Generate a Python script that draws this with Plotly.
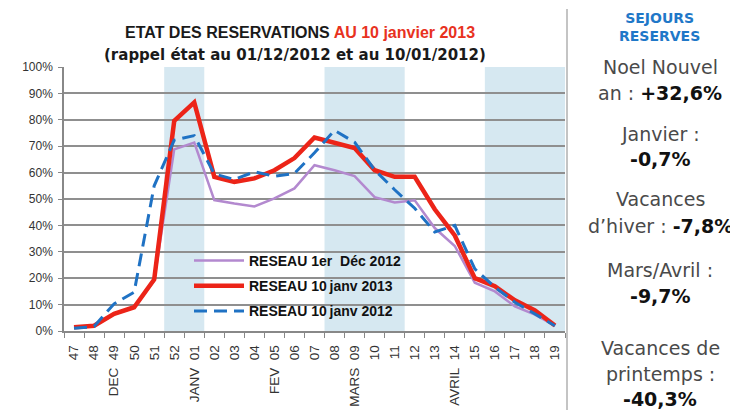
import plotly.graph_objects as go

# ---- data ----
weeks = ["47", "48", "49", "50", "51", "52", "01", "02", "03", "04", "05", "06", "07",
         "08", "09", "10", "11", "12", "13", "14", "15", "16", "17", "18", "19"]
month_of_week = {"49": "DEC", "01": "JANV", "05": "FEV", "09": "MARS", "14": "AVRIL"}

dec_2012 = [0.012, 0.018, 0.063, 0.088, 0.19, 0.688, 0.714, 0.496, 0.483, 0.472, 0.502, 0.54, 0.628,
            0.609, 0.587, 0.507, 0.487, 0.495, 0.39, 0.322, 0.183, 0.15, 0.093, 0.062, 0.02]
janv_2013 = [0.014, 0.02, 0.065, 0.09, 0.195, 0.796, 0.866, 0.584, 0.565, 0.578, 0.609, 0.655, 0.733,
             0.714, 0.693, 0.609, 0.584, 0.584, 0.461, 0.362, 0.2, 0.17, 0.116, 0.078, 0.021]
janv_2012 = [0.01, 0.017, 0.103, 0.147, 0.55, 0.723, 0.74, 0.595, 0.574, 0.603, 0.586, 0.597, 0.675,
             0.76, 0.715, 0.61, 0.535, 0.465, 0.375, 0.40, 0.235, 0.166, 0.109, 0.065, 0.02]

series_names = ["RESEAU 1er\u00a0\u00a0Déc 2012", "RESEAU 10\u2009janv 2013", "RESEAU 10\u2009janv 2012"]
holiday_bands = [("52", "01"), ("08", "11"), ("16", "19")]

# side panel: (plain text, bold value) per line
side_lines = [
    ("Noel Nouvel", ""), ("an : ", "+32,6%"),
    ("Janvier :", ""), ("", "-0,7%"),
    ("Vacances", ""), ("d\u2019hiver : ", "-7,8%"),
    ("Mars/Avril :", ""), ("", "-9,7%"),
    ("Vacances de", ""), ("printemps :", ""), ("", "-40,3%"),
]

# ---- figure ----
# page body has an 8px margin, so the figure starts at (8, 8) of the page
W, H = 730, 402
L, R, T, B = 56, 173, 59, 79
pw, ph = W - L - R, H - T - B
PL, PB = 64, 331  # page position of plot left / bottom


def px_x(x):
    return (x - PL) / pw


def px_y(y):
    return (PB - y) / ph


sans = "Liberation Sans, Arial"

fig = go.Figure()
fig.add_trace(go.Scatter(x=weeks, y=dec_2012, name="<b>" + series_names[0] + "</b>", mode="lines",
                         line=dict(color="#b389cf", width=2.5), legendgroup="a"))
fig.add_trace(go.Scatter(x=weeks, y=janv_2013, name="<b>" + series_names[1] + "</b>", mode="lines",
                         line=dict(color="#ec2418", width=4.5), legendgroup="b"))
fig.add_trace(go.Scatter(x=weeks, y=janv_2012, name="<b>" + series_names[2] + "</b>", mode="lines",
                         line=dict(color="#1f72c4", width=3, dash="13px,7px"), legendgroup="c"))

shapes = []
for a, b in holiday_bands:
    shapes.append(dict(type="rect", xref="x", yref="paper",
                       x0=weeks.index(a) - 0.5, x1=weeks.index(b) + 0.5, y0=0, y1=1,
                       fillcolor="#d6e8f1", line=dict(width=0), layer="below"))
# separator line of side panel
shapes.append(dict(type="line", xref="paper", yref="paper",
                   x0=px_x(567), x1=px_x(567), y0=px_y(410), y1=px_y(9),
                   line=dict(color="#c4c4c4", width=2)))

ticktext = []
for w in weeks:
    if w in month_of_week:
        ticktext.append(month_of_week[w] + "\u00a0\u00a0" + w)
    else:
        ticktext.append(w)

annotations = [
    dict(xref="paper", yref="paper", x=px_x(300), y=px_y(32), xanchor="center", yanchor="middle",
         showarrow=False, align="center",
         text="<b>ETAT DES RESERVATIONS <span style='color:#e8321e'>AU 10 janvier 2013</span></b>",
         font=dict(family=sans, size=16, color="#1a1a1a")),
    dict(xref="paper", yref="paper", x=px_x(295), y=px_y(55), xanchor="center", yanchor="middle",
         showarrow=False, align="center",
         text="<b>(rappel état au 01/12/2012 et au 10/01/2012)</b>",
         font=dict(family="DejaVu Sans", size=15, color="#1a1a1a")),
    dict(xref="paper", yref="paper", x=px_x(659), y=px_y(27.5), xanchor="center", yanchor="middle",
         showarrow=False, align="center", text="<b>SEJOURS<br>RESERVES</b>",
         font=dict(family="DejaVu Sans", size=14, color="#1f78c8")),
]
line_centers = [67, 93, 134, 159, 199, 226, 270, 296, 348, 374, 399]
for (plain, val), yc in zip(side_lines, line_centers):
    txt = plain + ("<b><span style='color:#111'>" + val + "</span></b>" if val else "")
    annotations.append(dict(xref="paper", yref="paper", x=px_x(660), y=px_y(yc),
                            xanchor="center", yanchor="middle", showarrow=False, align="center",
                            text=txt,
                            font=dict(family="DejaVu Sans", size=19, color="#4a4a4a")))

fig.update_layout(
    width=W, height=H,
    margin=dict(l=L, r=R, t=T, b=B),
    paper_bgcolor="white", plot_bgcolor="white",
    showlegend=True,
    legend=dict(x=px_x(189), y=px_y(245), xanchor="left", yanchor="top",
                bgcolor="rgba(0,0,0,0)", font=dict(family=sans, size=14, color="#111"),
                itemwidth=50, tracegroupgap=4),
    shapes=shapes,
    annotations=annotations,
    font=dict(family=sans, color="#333"),
)
fig.update_xaxes(type="category", categoryorder="array", categoryarray=weeks,
                 tickvals=weeks, ticktext=ticktext, tickangle=-90, automargin=False,
                 tickson="boundaries", ticks="outside", ticklen=5, tickcolor="#888",
                 ticklabelstandoff=7,
                 showline=True, linecolor="#888", linewidth=1.5, showgrid=False,
                 tickfont=dict(family=sans, size=13.5, color="#333"),
                 range=[-0.5, len(weeks) - 0.5])
fig.update_yaxes(range=[0, 1], dtick=0.1, tickformat=".0%", automargin=False,
                 showgrid=True, gridcolor="#8f8f8f", gridwidth=1.6,
                 ticks="outside", ticklen=4, tickcolor="#888", ticklabelstandoff=3,
                 showline=True, linecolor="#888", linewidth=1.5, zeroline=False,
                 tickfont=dict(family=sans, size=12, color="#333"))

fig.write_html("out.html")
